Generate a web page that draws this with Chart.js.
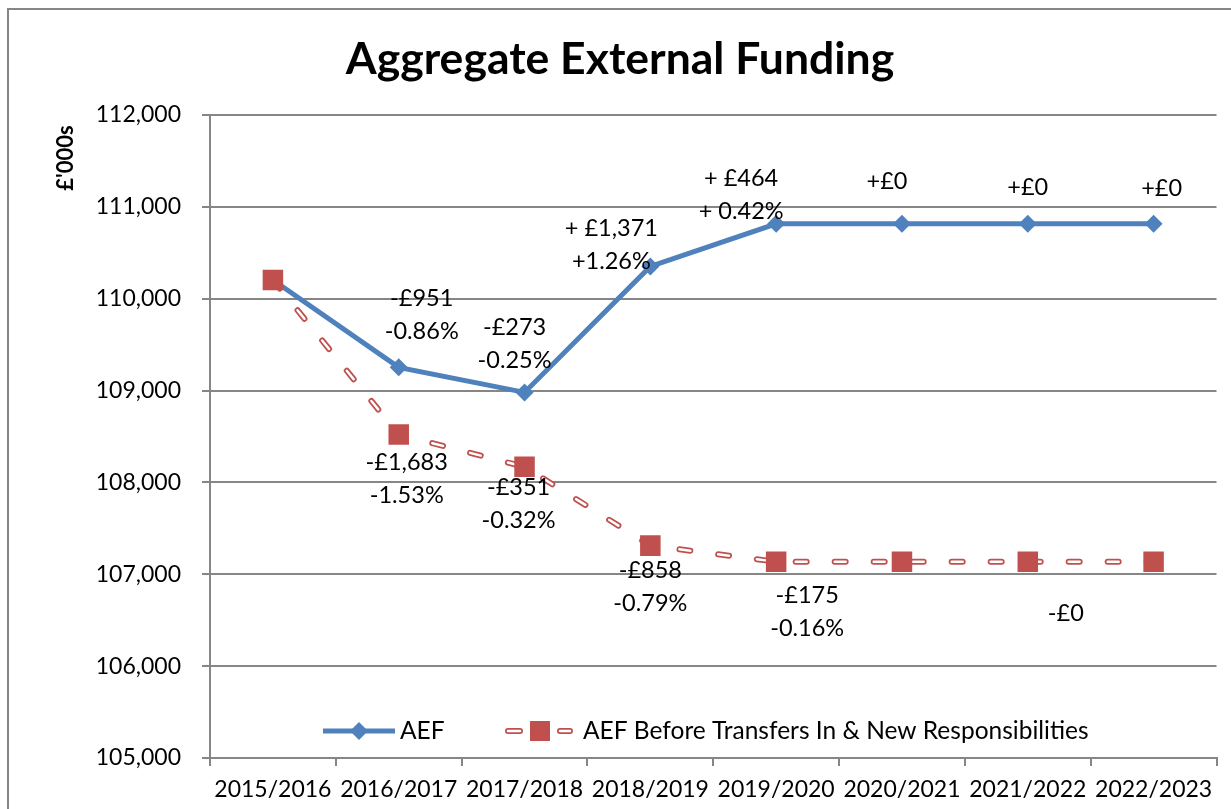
<!DOCTYPE html>
<html>
<head>
<meta charset="utf-8">
<script src="https://cdn.jsdelivr.net/npm/chart.js@4/dist/chart.umd.min.js"></script>
<style>
  html, body { margin: 0; padding: 0; background: #fff; }
  canvas { display: block; }
</style>
</head>
<body>
<canvas id="aef" width="1231" height="809"></canvas>
<script>
var years = ['2015/2016', '2016/2017', '2017/2018', '2018/2019', '2019/2020', '2020/2021', '2021/2022', '2022/2023'];
var aef = [110204, 109253, 108980, 110351, 110815, 110815, 110815, 110815];
var aefBefore = [110204, 108521, 108170, 107312, 107137, 107137, 107137, 107137];
var aefChange = [null, ['-£951', '-0.86%'], ['-£273', '-0.25%'], ['+ £1,371', '+1.26%'], ['+ £464', '+ 0.42%'], ['+£0'], ['+£0'], ['+£0']];
var beforeChange = [null, ['-£1,683', '-1.53%'], ['-£351', '-0.32%'], ['-£858', '-0.79%'], ['-£175', '-0.16%'], null, ['-£0'], null];

// where each change label sits relative to its point (px)
var aefLabelPos = [null, [23, -69], [-10, -65], [-39, -38], [-35, -45], [-15, -42], [0, -36], [8, -35]];
var beforeLabelPos = [null, [8, 28], [-6, 21], [0, 25], [31, 34], null, [38, 52], null];

var blue = '#4F81BD';
var red = '#C0504D';
var grey = '#868686';
var font = 'Lato, "Open Sans", sans-serif';
var dash = [11, 28];

var extras = {
  id: 'extras',
  beforeDraw: function(chart) {
    var c = chart.ctx;
    c.save();
    c.strokeStyle = grey;
    c.lineWidth = 2;
    c.beginPath();
    c.moveTo(8, 820);
    c.lineTo(8, 9);
    c.lineTo(1240, 9);
    c.stroke();
    c.restore();
  },
  afterDatasetsDraw: function(chart) {
    var c = chart.ctx;
    var xs = chart.scales.x, ys = chart.scales.y;
    c.save();
    c.fillStyle = '#000';
    c.textAlign = 'center';
    c.textBaseline = 'middle';
    c.font = '23.5px ' + font;
    function put(texts, pos, vals) {
      for (var i = 0; i < texts.length; i++) {
        if (!texts[i]) continue;
        var px = xs.getPixelForValue(i);
        var py = ys.getPixelForValue(vals[i]);
        for (var k = 0; k < texts[i].length; k++) {
          c.fillText(texts[i][k], px + pos[i][0], py + pos[i][1] + k * 33);
        }
      }
    }
    put(aefChange, aefLabelPos, aef);
    put(beforeChange, beforeLabelPos, aefBefore);

    // title
    c.font = 'bold 44.5px ' + font;
    c.fillText('Aggregate External Funding', 620, 60);

    // y axis title
    c.save();
    c.translate(66, 158);
    c.rotate(-Math.PI / 2);
    c.font = 'bold 22px ' + font;
    c.fillText("£'000s", 0, 0);
    c.restore();

    // legend
    var ly = chart.chartArea.bottom - 27;
    c.lineCap = 'butt';
    c.strokeStyle = blue;
    c.lineWidth = 5;
    c.beginPath();
    c.moveTo(323, ly);
    c.lineTo(395, ly);
    c.stroke();
    c.fillStyle = blue;
    c.beginPath();
    c.moveTo(359, ly - 9);
    c.lineTo(368, ly);
    c.lineTo(359, ly + 9);
    c.lineTo(350, ly);
    c.closePath();
    c.fill();

    c.lineCap = 'round';
    c.strokeStyle = red;
    c.lineWidth = 6;
    c.beginPath();
    c.moveTo(508, ly); c.lineTo(520, ly);
    c.moveTo(560, ly); c.lineTo(570, ly);
    c.stroke();
    c.strokeStyle = '#fff';
    c.lineWidth = 2.5;
    c.beginPath();
    c.moveTo(508, ly); c.lineTo(520, ly);
    c.moveTo(560, ly); c.lineTo(570, ly);
    c.stroke();
    c.fillStyle = red;
    c.fillRect(530, ly - 10, 20, 20);

    c.fillStyle = '#000';
    c.textAlign = 'left';
    c.font = '24.5px ' + font;
    c.fillText('AEF', 400, ly);
    c.fillText('AEF Before Transfers In & New Responsibilities', 583, ly);
    c.restore();
  }
};

var ctx = document.getElementById('aef').getContext('2d');
var chart = new Chart(ctx, {
  type: 'line',
  data: {
    labels: years,
    datasets: [{
      label: 'AEF',
      data: aef,
      borderColor: blue,
      backgroundColor: blue,
      borderWidth: 5,
      pointStyle: 'rectRot',
      pointRadius: 9,
      pointBorderWidth: 0,
      order: 1
    }, {
      label: 'AEF Before Transfers In & New Responsibilities',
      data: aefBefore,
      showLine: false,
      borderColor: red,
      backgroundColor: red,
      pointStyle: 'rect',
      pointRadius: 14.5,
      pointBorderWidth: 0,
      order: 0
    }, {
      label: 'outer',
      data: aefBefore,
      borderColor: red,
      borderWidth: 6,
      borderDash: dash,
      borderCapStyle: 'round',
      pointRadius: 0,
      order: 3
    }, {
      label: 'inner',
      data: aefBefore,
      borderColor: '#fff',
      borderWidth: 2.5,
      borderDash: dash,
      borderCapStyle: 'round',
      pointRadius: 0,
      order: 2
    }]
  },
  options: {
    responsive: false,
    devicePixelRatio: 1,
    animation: false,
    layout: { padding: { top: 115, left: 0, right: 12, bottom: 0 } },
    plugins: {
      legend: { display: false },
      title: { display: false },
      tooltip: { enabled: false }
    },
    scales: {
      x: {
        offset: true,
        afterFit: function(s) { s.height = 51; },
        grid: { drawOnChartArea: false, color: grey, lineWidth: 2, tickLength: 8, offset: true },
        border: { color: grey, width: 2 },
        ticks: { color: '#000', font: { family: font, size: 23 }, padding: 10, maxRotation: 0, autoSkip: false }
      },
      y: {
        min: 105000,
        max: 112000,
        afterFit: function(s) { s.width = 210; },
        grid: { color: grey, lineWidth: 2, tickLength: 8 },
        border: { color: grey, width: 2 },
        ticks: {
          stepSize: 1000,
          color: '#000',
          padding: 21,
          font: { family: font, size: 23 },
          callback: function(v) { return v.toLocaleString('en-GB'); }
        }
      }
    }
  },
  plugins: [extras]
});
</script>
</body>
</html>
